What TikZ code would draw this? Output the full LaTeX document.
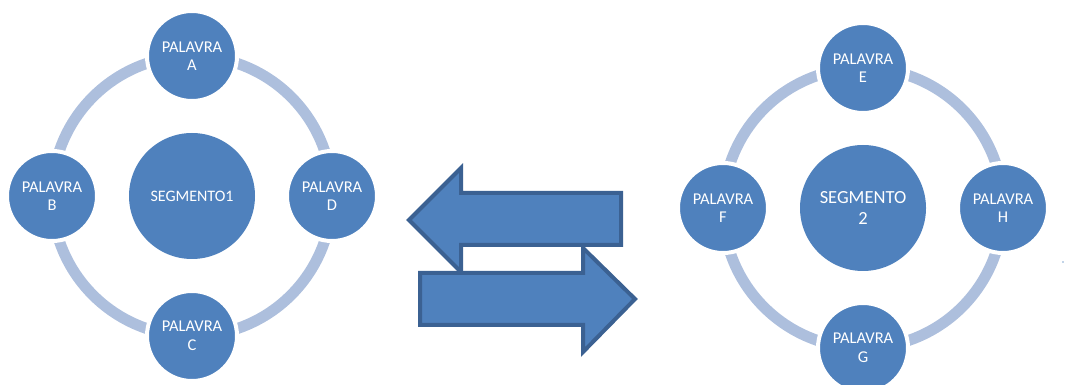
\documentclass[tikz,border=0pt]{standalone}
\usepackage{fontspec}
\setmainfont{Carlito}
\usetikzlibrary{positioning, backgrounds}
\definecolor{accent}{HTML}{4F81BD}
\definecolor{accentline}{HTML}{3B6192}
\definecolor{ringblue}{HTML}{ADBFDD}
\tikzset{
    segment/.style={
        circle, fill=accent, text=white,
        minimum size=126pt, inner sep=0pt, outer sep=0pt,
        font=\fontsize{16}{19}\selectfont, align=center
    },
    word/.style={
        circle, fill=accent, draw=white, line width=4pt, text=white,
        minimum size=90pt, inner sep=0pt, outer sep=0pt,
        font=\fontsize{16.5}{18.5}\selectfont, align=center
    },
    ring/.style={draw=ringblue, line width=11pt},
    bigarrow/.style={draw=accentline, fill=accent, line width=4pt, line join=miter}
}
\begin{document}
\begin{tikzpicture}[x=1pt, y=1pt, node distance=32pt]
    \useasboundingbox (0,0) rectangle (1065,385);
    % first segment
    \node[segment] (s1) at (192,189) {SEGMENTO1};
    \node[word, above=of s1] (wA) {PALAVRA\\A};
    \node[word, left=of s1] (wB) {PALAVRA\\B};
    \node[word, below=of s1] (wC) {PALAVRA\\C};
    \node[word, right=of s1] (wD) {PALAVRA\\D};
    % second segment
    \node[segment, font=\fontsize{18.5}{21}\selectfont] (s2) at (863,177) {SEGMENTO\\2};
    \node[word, above=of s2] (wE) {PALAVRA\\E};
    \node[word, left=of s2] (wF) {PALAVRA\\F};
    \node[word, below=of s2] (wG) {PALAVRA\\G};
    \node[word, right=of s2] (wH) {PALAVRA\\H};

    \begin{scope}[on background layer]
        \draw[ring] (wA.center) to[bend right=45] (wB.center) to[bend right=45] (wC.center)
            to[bend right=45] (wD.center) to[bend right=45] (wA.center);
        \draw[ring] (wE.center) to[bend right=45] (wF.center) to[bend right=45] (wG.center)
            to[bend right=45] (wH.center) to[bend right=45] (wE.center);
    \end{scope}

    % exchange arrows
    \draw[bigarrow] (409,165) -- (461,217) -- (461,192) -- (621,192) -- (621,140)
        -- (461,140) -- (461,113) -- cycle;
    \draw[bigarrow] (420,112) -- (583,112) -- (583,137) -- (635,86) -- (583,33)
        -- (583,60) -- (420,60) -- cycle;

    \fill[accent!70] (1063,123) circle (0.8);
\end{tikzpicture}
\end{document}
